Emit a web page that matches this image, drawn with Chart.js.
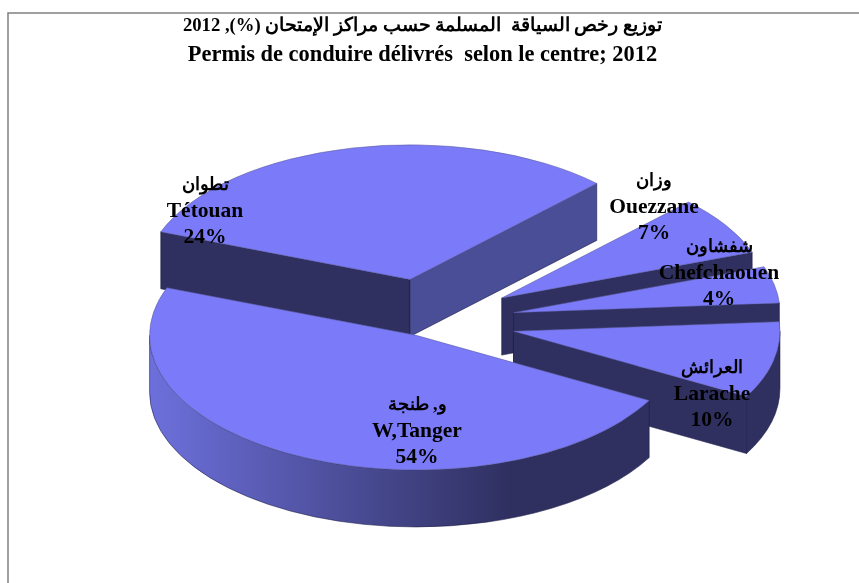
<!DOCTYPE html>
<html><head><meta charset="utf-8">
<style>html,body{margin:0;padding:0;background:#fff}canvas{display:block}</style>
<script src="https://cdn.jsdelivr.net/npm/chart.js@4"></script>
</head><body>
<canvas id="c" width="859" height="583" dir="rtl"></canvas>
<script>
const titleAr = 'توزيع رخص السياقة  المسلمة حسب مراكز الإمتحان (%), 2012';
const titleFr = 'Permis de conduire délivrés  selon le centre; 2012';
const categoriesAr = ['و, طنجة', 'تطوان', 'وزان', 'شفشاون', 'العرائش'];
const categoriesFr = ['W,Tanger', 'Tétouan', 'Ouezzane', 'Chefchaouen', 'Larache'];
// Percentages as printed on the reference's labels.
const printedPercent = [54, 24, 7, 4, 10];
// Share of the circle each slice actually occupies in the reference, measured from its
// slice edges. The two large slices are not drawn in proportion to their printed labels.
const drawnShare = [47.7, 31.6, 7.1, 4.4, 9.2];

const explosion = [29.5, 86, 87, 87, 87];
const labelCentres = [[417, 431], [205, 211], [654, 207], [719, 273], [712, 394]];
const tilt = 0.505, depth = 57, pieShiftX = 6;
const topColour = '#7B7BFA', darkColour = '#2F3060', litFace = '#4A4E96', edge = 'rgba(25,25,70,.75)';

const pie3d = {
  id: 'pie3d',
  beforeDraw(chart) {
    const c = chart.ctx;
    c.save();
    c.fillStyle = '#fff'; c.fillRect(0, 0, chart.width, chart.height);
    c.strokeStyle = '#808080'; c.lineWidth = 1.5;
    c.beginPath(); c.moveTo(8, chart.height); c.lineTo(8, 13); c.lineTo(chart.width, 13); c.stroke();
    c.restore();
  },
  beforeDatasetsDraw(chart) {
    const c = chart.ctx, arcs = chart.getDatasetMeta(0).data;
    const shift = (a, i) => {
      const mid = (a.startAngle + a.endAngle) / 2;
      return [a.x + pieShiftX + explosion[i] * Math.cos(mid), a.y + explosion[i] * Math.sin(mid) * tilt];
    };
    const paint = (fill) => { c.fillStyle = fill; c.fill(); c.strokeStyle = edge; c.lineWidth = .75; c.stroke(); };
    const face = (a, i, angle, fill) => {
      const [ox, oy] = shift(a, i), r = a.outerRadius;
      const x = ox + r * Math.cos(angle), y = oy + r * Math.sin(angle) * tilt;
      c.beginPath(); c.moveTo(ox, oy); c.lineTo(x, y); c.lineTo(x, y + depth); c.lineTo(ox, oy + depth); c.closePath();
      paint(fill);
    };
    [1, 2, 3, 4, 0].forEach(i => {
      const a = arcs[i], [ox, oy] = shift(a, i), r = a.outerRadius;
      const s = a.startAngle, e = a.endAngle;
      if (Math.cos(s) < 0) face(a, i, s, darkColour);
      if (Math.cos(e) > 0) face(a, i, e, i === 1 ? litFace : darkColour);
      for (let k = 0; k < 2; k++) {
        const lo = Math.max(s, k * 2 * Math.PI), hi = Math.min(e, k * 2 * Math.PI + Math.PI);
        if (lo >= hi) continue;
        const g = c.createLinearGradient(ox - r, 0, ox + .35 * r, 0);
        g.addColorStop(0, '#6D70DB'); g.addColorStop(1, darkColour);
        c.beginPath();
        c.ellipse(ox, oy, r, r * tilt, 0, lo, hi);
        c.ellipse(ox, oy + depth, r, r * tilt, 0, hi, lo, true);
        c.closePath();
        paint(g);
      }
    });
    arcs.forEach((a, i) => {
      const [ox, oy] = shift(a, i);
      c.save();
      c.translate(ox, oy); c.scale(1, tilt); c.translate(-a.x, -a.y);
      a.draw(c);
      c.restore();
    });
    return false;
  },
  afterDraw(chart) {
    const c = chart.ctx;
    c.save();
    c.fillStyle = '#000'; c.textAlign = 'center'; c.textBaseline = 'middle';
    labelCentres.forEach(([x, y], i) => {
      c.font = 'bold 18px "Liberation Serif"';
      c.fillText(categoriesAr[i], x, y - 26);
      c.font = 'bold 21.5px "Liberation Serif"';
      c.fillText(categoriesFr[i], x, y);
      c.fillText(printedPercent[i] + '%', x, y + 26);
    });
    c.restore();
  }
};

new Chart(document.getElementById('c'), {
  type: 'pie',
  data: {
    labels: categoriesFr,
    datasets: [{ data: drawnShare, backgroundColor: topColour, borderColor: '#5C5C9E', borderWidth: .75 }]
  },
  options: {
    responsive: false, animation: false, rotation: 119, radius: 266.5,
    layout: { padding: { right: 14, bottom: 10.6 } },
    events: [],
    plugins: {
      legend: { display: false }, tooltip: { enabled: false },
      title: { display: true, text: titleAr, color: '#000', padding: { top: 14.5, bottom: 0 },
        font: { family: '"Liberation Serif"', size: 18.7, weight: 'bold', lineHeight: 1.2 } },
      subtitle: { display: true, text: titleFr, color: '#000', padding: { top: 3, bottom: 0 },
        font: { family: '"Liberation Serif"', size: 22.4, weight: 'bold', lineHeight: 1.4 } }
    }
  },
  plugins: [pie3d]
});
</script>
</body></html>
